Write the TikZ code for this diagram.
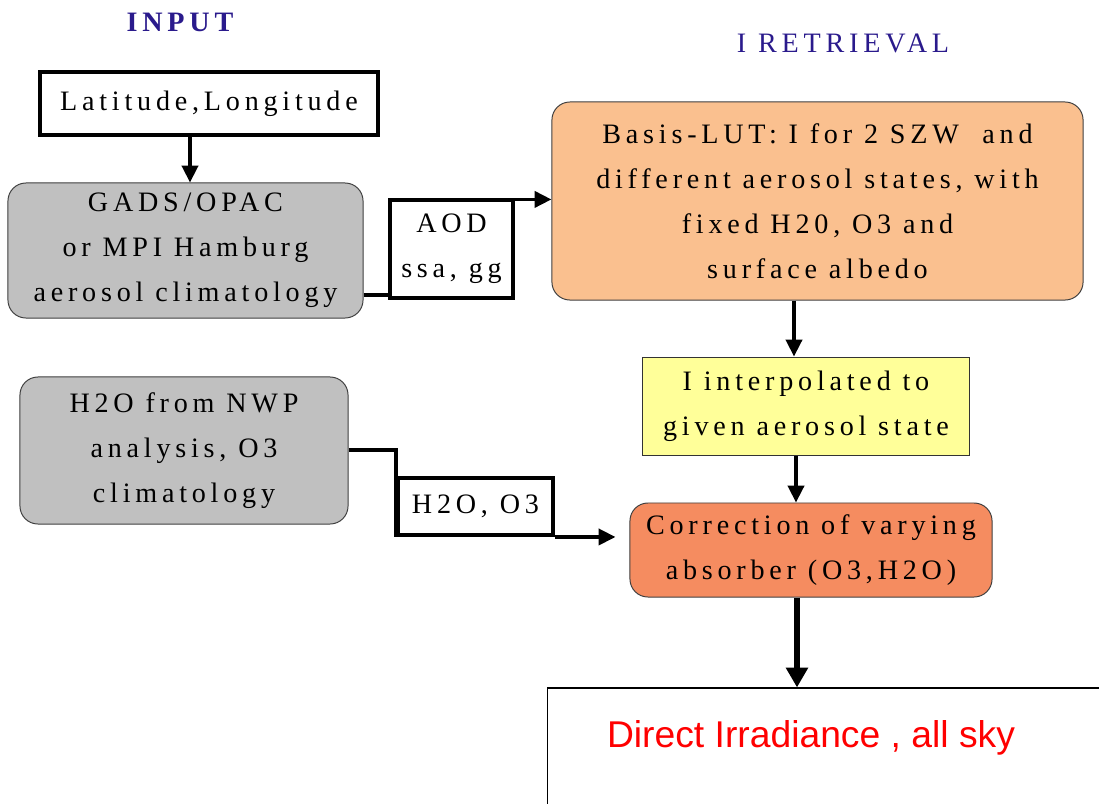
\documentclass[tikz,border=0pt]{standalone}
\usepackage{fontspec}
\setmainfont{Liberation Serif}[LetterSpace=17]
\newfontfamily\outsans{Liberation Sans}
\usepackage{tikz}
\usetikzlibrary{arrows.meta,positioning,calc}

\definecolor{headblue}{RGB}{42,26,140}
\definecolor{boxgray}{RGB}{192,192,192}
\definecolor{lutorange}{RGB}{250,192,143}
\definecolor{interpyellow}{RGB}{255,255,153}
\definecolor{corrorange}{RGB}{245,140,96}

\begin{document}
\begin{tikzpicture}[
  x=0.025cm, y=-0.025cm,
  txt/.style={font=\fontsize{20}{32}\selectfont, align=center, inner sep=0pt},
  head/.style={font=\fontsize{20}{22}\selectfont, text=headblue, inner sep=0pt},
  roundbox/.style={txt, draw=black!75, line width=0.7pt, rounded corners=0.45cm},
  plainbox/.style={txt, draw=black!80, line width=0.7pt},
  tagbox/.style={txt, draw, line width=2.8pt, fill=white},
  conn/.style={line width=2.4pt},
  arrow/.style={conn, -{Triangle[length=12pt,width=11.5pt]}},
  bigarrow/.style={line width=4pt, -{Triangle[length=14pt,width=15pt]}}
]
\useasboundingbox (0,0) rectangle (1099,803);

% headings
\node[head, font=\fontsize{20}{22}\bfseries] (inhead) at (180,22) {INPUT};
\node[head] (rethead) at (843,43) {I RETRIEVAL};

% input side
\node[tagbox, minimum width=8.45cm, minimum height=1.575cm] (latlon) at (209,103.5) {Latitude,Longitude};
\node[roundbox, fill=boxgray, minimum width=8.875cm, minimum height=3.375cm] (gads) at (185.5,250.5)
  {GADS/OPAC\\or MPI Hamburg\\aerosol climatology};
\node[tagbox, minimum width=3.075cm, minimum height=2.45cm] (aod) at (451.5,249) {AOD\\ssa, gg};
\node[roundbox, fill=boxgray, minimum width=8.2cm, minimum height=3.675cm] (nwp) at (184,450.5)
  {H2O from NWP\\analysis, O3\\climatology};
\node[tagbox, minimum width=3.875cm, minimum height=1.425cm] (absorb) at (475.5,506.5) {H2O, O3};

% retrieval side
\node[roundbox, fill=lutorange, minimum width=13.275cm, minimum height=4.95cm] (lut) at (817.5,201)
  {Basis-LUT: I for 2 SZW\ \ and\\different aerosol states, with\\fixed H20, O3 and\\surface albedo};
\node[plainbox, fill=interpyellow, minimum width=8.15cm, minimum height=2.45cm] (interp) at (806,406)
  {I interpolated to\\given aerosol state};
\node[roundbox, fill=corrorange, minimum width=9.05cm, minimum height=2.35cm] (corr) at (811,550)
  {Correction of varying\\absorber (O3,H2O)};
\node[draw, line width=0.8pt, minimum width=14.05cm, minimum height=3.05cm] (result) at (829,749) {};
\node[font=\outsans\fontsize{26.5}{30}\selectfont, text=red, inner sep=0pt] (resulttext) at (811,738)
  {Direct Irradiance , all sky};

\draw[arrow] (latlon.south -| 190,0) -- (gads.north -| 190,0);
\draw[conn] (gads.east |- 0,295) -- (aod.west |- 0,295);
\draw[arrow] ([yshift=-1pt]aod.north east) -- ([yshift=-1pt]aod.north east -| lut.west);
\draw[arrow] (lut.south -| 794,0) -- (interp.north -| 794,0);
\draw[arrow] (interp.south -| 796,0) -- (corr.north -| 796,0);
\draw[conn] (nwp.east |- 0,450) -| (absorb.south west);
\draw[arrow, shorten >=0.35cm] (absorb.south east) -- (absorb.south east -| corr.west);
\draw[bigarrow] (corr.south -| 797,0) -- (result.north -| 797,0);
\end{tikzpicture}
\end{document}
